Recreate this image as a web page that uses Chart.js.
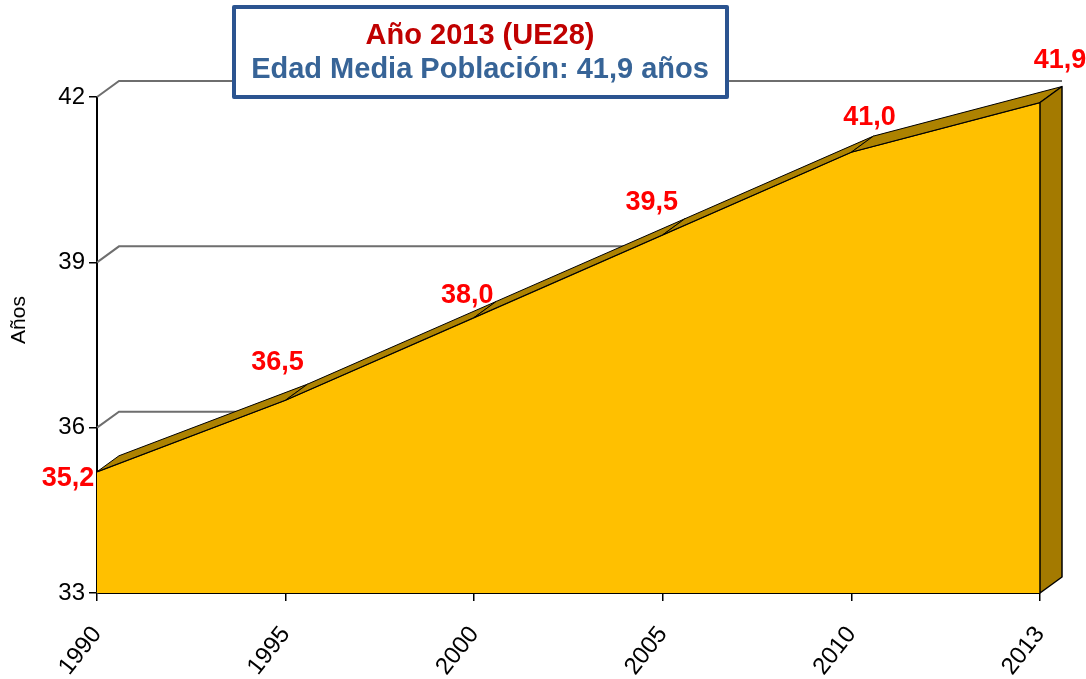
<!DOCTYPE html>
<html>
<head>
<meta charset="utf-8">
<script src="https://cdn.jsdelivr.net/npm/chart.js@4"></script>
<style>
  html, body { margin: 0; padding: 0; background: #fff; }
  #wrap { width: 1086px; height: 679px; }
</style>
</head>
<body>
<div id="wrap"><canvas id="myChart" width="1086" height="679"></canvas></div>
<script>
'use strict';

const years = ['1990', '1995', '2000', '2005', '2010', '2013'];
const edadMedia = [35.2, 36.5, 38.0, 39.5, 41.0, 41.9];
const yTicks = [33, 36, 39, 42];
const titleLines = ['Año 2013 (UE28)', 'Edad Media Población: 41,9 años'];
const yTitle = 'Años';

// 3D depth of the Excel-style area and label nudges (relative to each point)
const depth = { dx: 22, dy: -16 };
const labelNudge = [[-29, 7], [-8, -38], [-7, -22], [-11, -32], [18, -35], [20, -42]];

const FONT = "'Liberation Sans', Arial, sans-serif";
Chart.defaults.font.family = FONT;

const fmt = v => v.toFixed(1).replace('.', ',');

const threeD = {
    id: 'threeD',
    beforeDatasetsDraw(chart) {
        const { ctx, chartArea: a, scales: { y } } = chart;
        ctx.save();
        ctx.strokeStyle = '#6e6e6e';
        ctx.lineWidth = 2;
        yTicks.forEach(v => {
            const py = y.getPixelForValue(v);
            ctx.beginPath();
            ctx.moveTo(a.left, py);
            ctx.lineTo(a.left + depth.dx, py + depth.dy);
            ctx.lineTo(a.right + depth.dx, py + depth.dy);
            ctx.stroke();
        });
        ctx.restore();
    },
    afterDatasetsDraw(chart) {
        const { ctx, chartArea: a, scales: { x, y } } = chart;
        const pts = edadMedia.map((v, i) => ({ x: x.getPixelForValue(i), y: y.getPixelForValue(v) }));
        ctx.save();
        ctx.lineJoin = 'round';
        ctx.strokeStyle = '#000';
        ctx.lineWidth = 1;
        // top band
        for (let i = 0; i < pts.length - 1; i++) {
            const p = pts[i], q = pts[i + 1];
            ctx.beginPath();
            ctx.moveTo(p.x, p.y);
            ctx.lineTo(q.x, q.y);
            ctx.lineTo(q.x + depth.dx, q.y + depth.dy);
            ctx.lineTo(p.x + depth.dx, p.y + depth.dy);
            ctx.closePath();
            ctx.fillStyle = '#AD8200';
            ctx.fill();
            ctx.stroke();
        }
        // right side panel
        const l = pts[pts.length - 1];
        ctx.beginPath();
        ctx.moveTo(l.x, a.bottom);
        ctx.lineTo(l.x, l.y);
        ctx.lineTo(l.x + depth.dx, l.y + depth.dy);
        ctx.lineTo(l.x + depth.dx, a.bottom + depth.dy);
        ctx.closePath();
        ctx.fillStyle = '#A47A00';
        ctx.fill();
        ctx.lineWidth = 1.5;
        ctx.stroke();

        // value labels
        ctx.fillStyle = '#FF0000';
        ctx.font = 'bold 27px ' + FONT;
        ctx.textAlign = 'center';
        ctx.textBaseline = 'middle';
        edadMedia.forEach((v, i) => {
            ctx.fillText(fmt(v), pts[i].x + labelNudge[i][0], pts[i].y + labelNudge[i][1]);
        });

        // axis title
        ctx.save();
        ctx.translate(19, 320);
        ctx.rotate(-Math.PI / 2);
        ctx.fillStyle = '#000';
        ctx.font = '21px ' + FONT;
        ctx.fillText(yTitle, 0, 0);
        ctx.restore();

        // title box
        ctx.fillStyle = '#fff';
        ctx.fillRect(234, 7, 493, 90);
        ctx.strokeStyle = '#2B5490';
        ctx.lineWidth = 4;
        ctx.strokeRect(234, 7, 493, 90);
        ctx.font = 'bold 29px ' + FONT;
        ctx.fillStyle = '#C00000';
        ctx.fillText(titleLines[0], 480, 36);
        ctx.fillStyle = '#376497';
        ctx.fillText(titleLines[1], 480, 70);
        ctx.restore();
    }
};

const ctx = document.getElementById('myChart');
new Chart(ctx, {
    type: 'line',
    data: {
        labels: years,
        datasets: [{
            data: edadMedia,
            fill: 'start',
            backgroundColor: '#FFC000',
            borderColor: '#000',
            borderWidth: 1.5,
            pointRadius: 0,
            tension: 0
        }]
    },
    options: {
        responsive: false,
        animation: false,
        layout: { padding: { top: 97, right: 46, left: 0, bottom: 0 } },
        plugins: { legend: { display: false }, tooltip: { enabled: false } },
        scales: {
            x: {
                offset: false,
                grid: { drawOnChartArea: false, tickLength: 8, color: '#000', lineWidth: 1.5 },
                border: { color: '#000', width: 2 },
                ticks: { minRotation: 52, maxRotation: 52, autoSkip: false, color: '#000', font: { size: 24 }, padding: 20 },
                afterFit: s => { s.height = 86; s.paddingLeft = 0; s.paddingRight = 0; }
            },
            y: {
                min: 33,
                max: 42,
                grid: { drawOnChartArea: false, tickLength: 8, color: '#000', lineWidth: 1.5 },
                border: { color: '#000', width: 2 },
                ticks: { stepSize: 3, color: '#000', font: { size: 24 }, padding: 4 },
                afterFit: s => { s.width = 97; }
            }
        }
    },
    plugins: [threeD]
});
</script>
</body>
</html>
